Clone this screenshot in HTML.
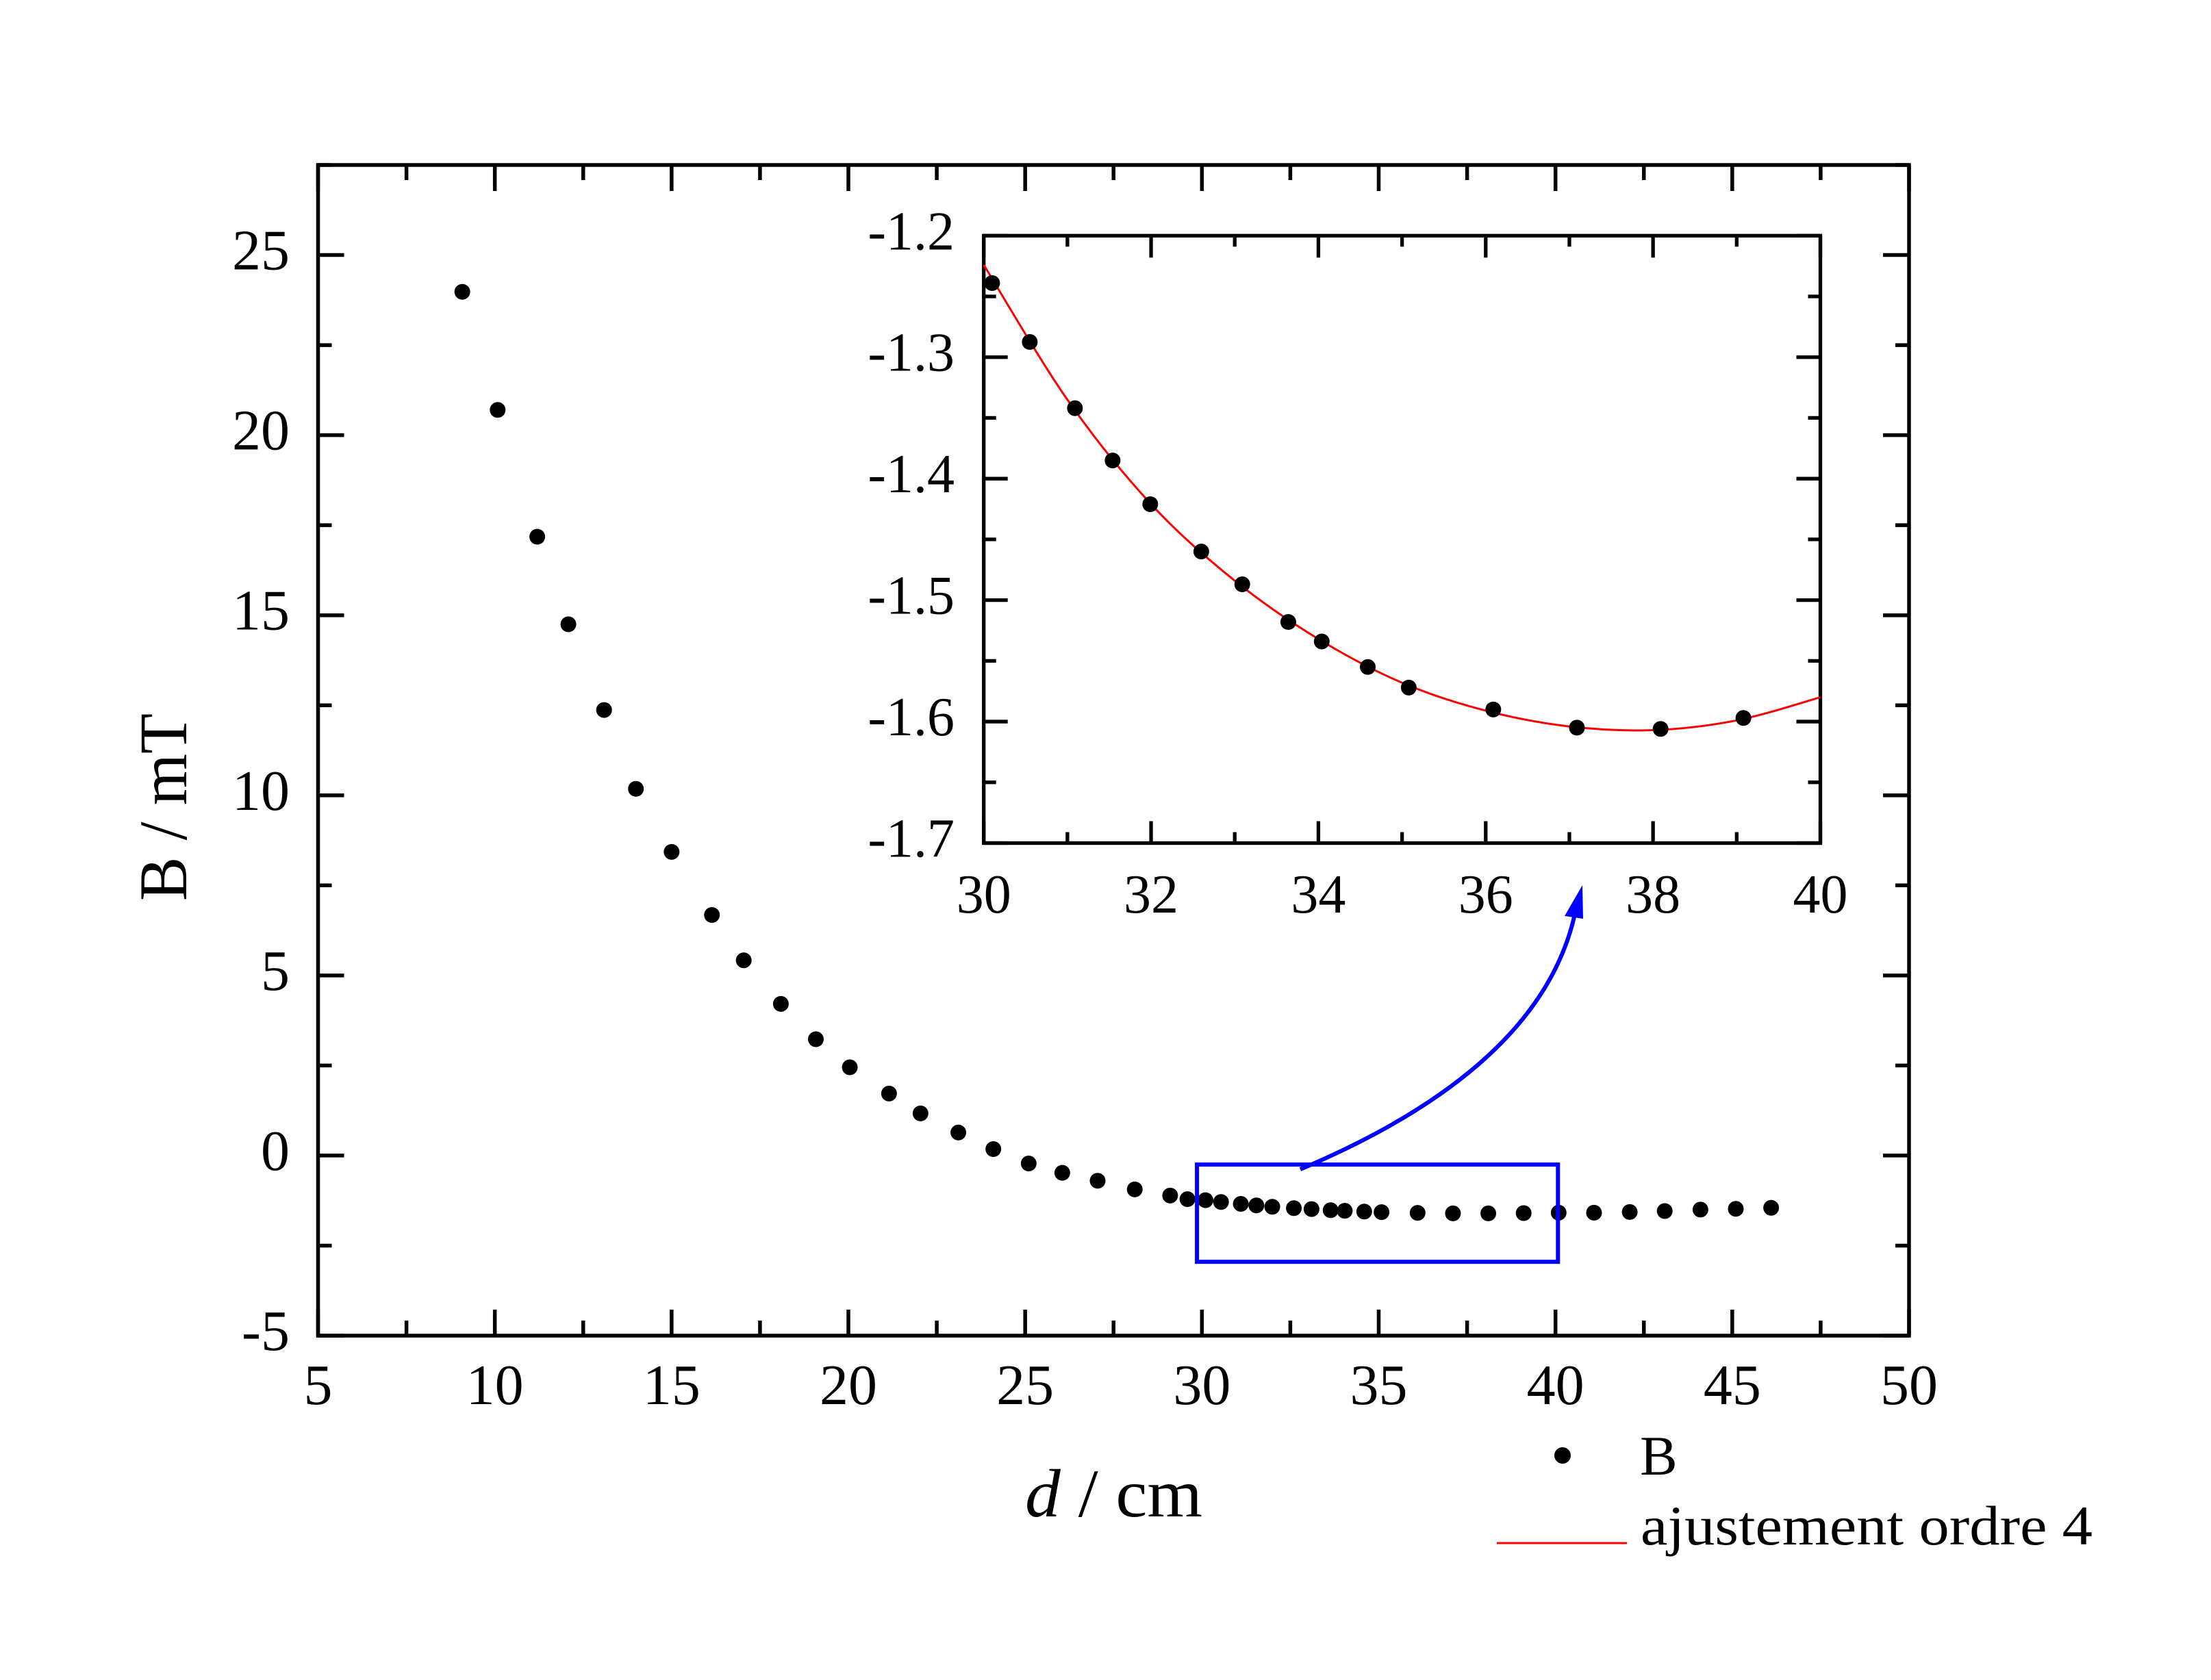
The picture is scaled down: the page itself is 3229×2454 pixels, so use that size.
<!DOCTYPE html>
<html><head><meta charset="utf-8"><style>
html,body{margin:0;padding:0;background:#fff;}
svg{display:block;font-family:"Liberation Serif",serif;}
</style></head><body>
<svg id="chart" width="3229" height="2454" viewBox="0 0 3229 2454" xmlns="http://www.w3.org/2000/svg">
<rect width="3229" height="2454" fill="#fff"/>
<g id="main"></g>
<g id="inset"></g>
<text transform="translate(272,1179) rotate(-90)" text-anchor="middle" font-size="100" textLength="274" lengthAdjust="spacingAndGlyphs">B / mT</text>
<text x="1497" y="2215" font-size="100" textLength="259" lengthAdjust="spacingAndGlyphs"><tspan font-style="italic">d</tspan> / cm</text>
<g>
<circle cx="2282" cy="2126" r="12" fill="#000"/>
<text x="2395" y="2154" font-size="82">B</text>
<line x1="2186" y1="2254" x2="2376" y2="2254" stroke="#f00" stroke-width="3"/>
<text x="2396" y="2256" font-size="82" textLength="660" lengthAdjust="spacingAndGlyphs">ajustement ordre 4</text>
</g>
</svg>
<script>
const mainX = [9.08,10.08,11.2,12.08,13.09,13.99,15.0,16.14,17.04,18.09,19.08,20.04,21.15,22.04,23.11,24.10,25.10,26.05,27.05,28.10,29.10,29.59,30.10,30.54,31.10,31.54,31.99,32.60,33.10,33.64,34.04,34.59,35.08,36.1,37.1,38.1,39.1,40.09,41.09,42.1,43.09,44.1,45.1,46.1];
const mainY = [23.98,20.7,17.18,14.75,12.37,10.18,8.43,6.68,5.42,4.21,3.23,2.45,1.72,1.17,0.64,0.18,-0.22,-0.48,-0.70,-0.94,-1.11,-1.21,-1.239,-1.288,-1.342,-1.385,-1.421,-1.460,-1.487,-1.518,-1.534,-1.555,-1.572,-1.590,-1.605,-1.606,-1.597,-1.587,-1.587,-1.567,-1.54,-1.50,-1.48,-1.45];
const mainXTicks = [5,10,15,20,25,30,35,40,45,50];
const mainYTicks = [-5,0,5,10,15,20,25];
const insetX = [30.10,30.55,31.09,31.54,31.99,32.60,33.09,33.64,34.04,34.59,35.08,36.09,37.09,38.09,39.08];
const insetY = [-1.239,-1.2875,-1.342,-1.385,-1.421,-1.460,-1.487,-1.518,-1.534,-1.555,-1.572,-1.590,-1.605,-1.606,-1.597];
const fitX = [30,31,32,33,34,35,36,37,38,39,40];
const fitY = [-1.224,-1.335,-1.421,-1.484,-1.532,-1.568,-1.591,-1.604,-1.607,-1.599,-1.580];
const insetXTicks = [30,32,34,36,38,40];
const insetYTicks = [-1.2,-1.3,-1.4,-1.5,-1.6,-1.7];
const zoomBoxX = [29.86,40.07];
const zoomBoxY = [-0.25,-2.95];

const NS = "http://www.w3.org/2000/svg";
function mk(tag, attrs, parent){const e=document.createElementNS(NS,tag);for(const k in attrs)e.setAttribute(k,attrs[k]);parent.appendChild(e);return e;}

const M = {l:464.5,r:2788,t:241,b:1951,x0:5,x1:50,y0:-5,y1:27.5};
const mx = v => M.l + (v-M.x0)/(M.x1-M.x0)*(M.r-M.l);
const my = v => M.b - (v-M.y0)/(M.y1-M.y0)*(M.b-M.t);
const gm = document.getElementById('main');

for(let v=5; v<=50.01; v+=2.5){
  const major = Math.abs(v/5-Math.round(v/5))<1e-6; const L = major?38:22;
  const t1 = mk('line',{x1:mx(v),x2:mx(v),y1:M.b,y2:M.b-L,stroke:'#000','stroke-width':5.5},gm);
  
  
  const t2 = mk('line',{x1:mx(v),x2:mx(v),y1:M.t,y2:M.t+L,stroke:'#000','stroke-width':5.5},gm);
  
  
}
for(let v=-5; v<=27.51; v+=2.5){
  const major = Math.abs(v/5-Math.round(v/5))<1e-6; const L = major?38:20;
  const t1 = mk('line',{x1:M.l,x2:M.l+L,y1:my(v),y2:my(v),stroke:'#000','stroke-width':5.5},gm);
  
  
  const t2 = mk('line',{x1:M.r,x2:M.r-L,y1:my(v),y2:my(v),stroke:'#000','stroke-width':5.5},gm);
  
  
}
const frame = mk('rect',{x:M.l,y:M.t,width:M.r-M.l,height:M.b-M.t,fill:'none',stroke:'#000','stroke-width':5.5},gm);


mainXTicks.forEach(v=>{
  const t = mk('text',{x:mx(v),y:2051,'text-anchor':'middle','font-size':84},gm);
  t.textContent = String(v);
  
  
});
mainYTicks.forEach(v=>{
  const t = mk('text',{x:423,y:my(v)+21,'text-anchor':'end','font-size':84},gm);
  t.textContent = String(v);
  
  
});
mainX.forEach((x,i)=>{
  const c = mk('circle',{cx:mx(x),cy:my(mainY[i]),r:11.5,fill:'#000'},gm);
  
  
});
const box = mk('rect',{x:mx(zoomBoxX[0]),y:my(zoomBoxY[0]),width:mx(zoomBoxX[1])-mx(zoomBoxX[0]),height:my(zoomBoxY[1])-my(zoomBoxY[0]),fill:'none',stroke:'#0000ff','stroke-width':6},gm);


const arrow = mk('path',{d:'M1899,1708 Q2250,1560 2300,1335',fill:'none',stroke:'#0000ff','stroke-width':6},gm);


const head = mk('path',{d:'M2311,1293 L2285,1338 L2312,1342 Z',fill:'#0000ff'},gm);



const I = {l:1436.7,r:2658.5,t:344.3,b:1231.5,x0:30,x1:40,y0:-1.7,y1:-1.2};
const ix = v => I.l + (v-I.x0)/(I.x1-I.x0)*(I.r-I.l);
const iy = v => I.b - (v-I.y0)/(I.y1-I.y0)*(I.b-I.t);
const gi = document.getElementById('inset');
for(let v=30; v<=40.01; v+=1){
  const major = Math.round(v)%2===0; const L = major?32:16;
  const t1 = mk('line',{x1:ix(v),x2:ix(v),y1:I.b,y2:I.b-L,stroke:'#000','stroke-width':5.3},gi);
  
  
  const t2 = mk('line',{x1:ix(v),x2:ix(v),y1:I.t,y2:I.t+L,stroke:'#000','stroke-width':5.3},gi);
  
  
}
for(let k=0; k<=10; k++){
  const v = -1.7 + k*0.05; const major = k%2===0; const L = major?35:18;
  const t1 = mk('line',{x1:I.l,x2:I.l+L,y1:iy(v),y2:iy(v),stroke:'#000','stroke-width':5.3},gi);
  
  
  const t2 = mk('line',{x1:I.r,x2:I.r-L,y1:iy(v),y2:iy(v),stroke:'#000','stroke-width':5.3},gi);
  
  
}
const ifr = mk('rect',{x:I.l,y:I.t,width:I.r-I.l,height:I.b-I.t,fill:'none',stroke:'#000','stroke-width':5.3},gi);


insetXTicks.forEach(v=>{
  const t = mk('text',{x:ix(v),y:1333,'text-anchor':'middle','font-size':80},gi);
  t.textContent = String(v);
  
  
});
insetYTicks.forEach(v=>{
  const t = mk('text',{x:1394,y:iy(v)+20,'text-anchor':'end','font-size':80},gi);
  t.textContent = v.toFixed(1);
  
  
});
const pts = fitX.map((x,i)=>[ix(x),iy(fitY[i])]);
let d = 'M'+pts[0][0]+','+pts[0][1];
for(let i=0;i<pts.length-1;i++){
  const p0=pts[Math.max(0,i-1)],p1=pts[i],p2=pts[i+1],p3=pts[Math.min(pts.length-1,i+2)];
  const c1=[p1[0]+(p2[0]-p0[0])/6,p1[1]+(p2[1]-p0[1])/6];
  const c2=[p2[0]-(p3[0]-p1[0])/6,p2[1]-(p3[1]-p1[1])/6];
  d+=' C'+c1[0]+','+c1[1]+' '+c2[0]+','+c2[1]+' '+p2[0]+','+p2[1];
}
const fit = mk('path',{d:d,fill:'none',stroke:'#ff0000','stroke-width':3},gi);


insetX.forEach((x,i)=>{
  const c = mk('circle',{cx:ix(x),cy:iy(insetY[i]),r:11.5,fill:'#000'},gi);
  
  
});
</script>
</body></html>
